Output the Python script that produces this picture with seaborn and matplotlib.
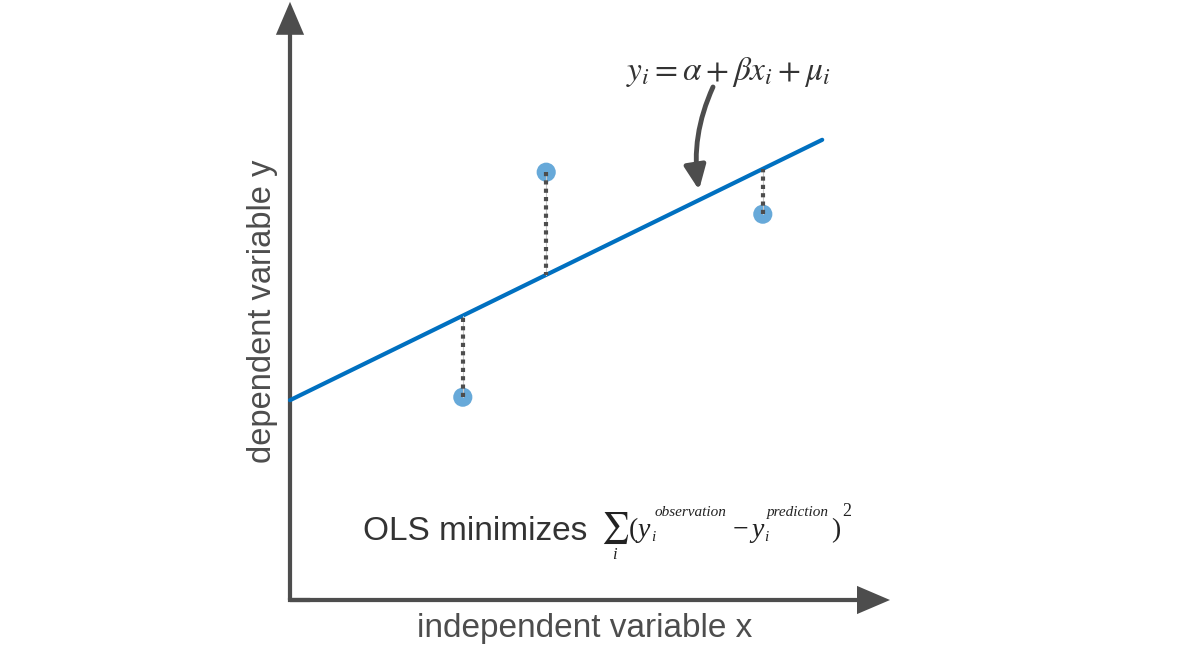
import numpy as np
import pandas as pd
import matplotlib
matplotlib.use("Agg")
import matplotlib.pyplot as plt
import seaborn as sns

# ---- data (abstract units, origin at the axis corner) ----
obs_x = [2.88, 4.27, 7.88]
obs_y = [3.38, 7.13, 6.43]
fit_y = [4.73, 5.42, 7.18]          # value of the fitted line above/below each point
line_x = [0.0, 8.87]
line_y = [3.33, 7.67]

x_label = "independent variable x"
y_label = "dependent variable y"
eq_text = r"$y_i = \alpha + \beta x_i + \mu_i$"
ols_text = "OLS minimizes"

axis_color = "#4d4d4d"
line_color = "#0070c0"
point_color = "#67a9d9"
text_color = "#333333"

sns.set_theme(style="white")
plt.rcParams["font.family"] = ["Liberation Sans", "DejaVu Sans"]
plt.rcParams["mathtext.fontset"] = "stix"


def px(x, y):
    # pixel position of the picture -> data units
    return (x - 290) / 60, (600 - y) / 60


fig = plt.figure(figsize=(11.97, 6.51), dpi=100)
ax = fig.add_axes([0, 0, 1, 1])
ax.set_xlim(-290 / 60, (1197 - 290) / 60)
ax.set_ylim(-51 / 60, 600 / 60)
ax.axis("off")

# axes with arrow heads
ax.arrow(0, 0, 0, 9.97, width=0.07, head_width=0.47, head_length=0.55,
         length_includes_head=True, color=axis_color, lw=0)
ax.arrow(0, 0, 10.0, 0, width=0.07, head_width=0.47, head_length=0.55,
         length_includes_head=True, color=axis_color, lw=0)
ax.plot([0, 0.3], [0, 0], color=axis_color, lw=3, solid_capstyle="projecting")

# regression line
df_line = pd.DataFrame({"x": line_x, "y": line_y})
sns.lineplot(data=df_line, x="x", y="y", ax=ax, color=line_color, lw=3)

# observations
df_obs = pd.DataFrame({"x": obs_x, "y": obs_y})
sns.scatterplot(data=df_obs, x="x", y="y", ax=ax, color=point_color,
                s=190, edgecolor="none", zorder=3)

# residuals
for x, y0, y1 in zip(obs_x, obs_y, fit_y):
    ax.plot([x, x], [y0, y1], color="#c8c8c8", lw=0.8, zorder=4)
    ax.plot([x, x], [y0, y1], color=axis_color, lw=3,
            linestyle=(0, (1, 1)), dash_capstyle="butt", zorder=5)

# labels
ax.text(*px(585, 628), x_label, ha="center", va="center", fontsize=24, color=axis_color)
ax.text(*px(262, 311), y_label, ha="center", va="center", rotation=90,
        fontsize=23.5, color=axis_color)
ax.text(*px(728, 72), eq_text, ha="center", va="center", fontsize=24, color=text_color)
ax.text(*px(363, 540), ols_text, ha="left", va="baseline", fontsize=24, color=text_color)

# sum of squared residuals, set piece by piece (small superscripts)
serif = ["Liberation Serif", "DejaVu Serif"]
ax.text(*px(615, 528), r"$\sum$", ha="center", va="center", fontsize=22, color="#222222")
pieces = [
    # text, x px, baseline px, size, style
    ("i", 612, 559, 12, "italic"),
    ("(", 629, 537, 20, "normal"),
    ("y", 637, 537, 20, "italic"),
    ("i", 651, 541, 11, "italic"),
    ("observation", 655, 516, 11, "italic"),
    ("\u2212", 733, 537, 20, "normal"),
    ("y", 751, 537, 20, "italic"),
    ("i", 764, 541, 11, "italic"),
    ("prediction", 767, 516, 11, "italic"),
    (")", 831, 537, 20, "normal"),
    ("2", 842, 516, 13, "normal"),
]
for s, x, y, size, style in pieces:
    ax.text(*px(x, y), s, ha="left", va="baseline", fontsize=size,
            fontstyle=style, family=serif, color="#222222")

# curved pointer to the line
ax.annotate("", xy=px(699, 190), xytext=px(713, 87),
            arrowprops=dict(arrowstyle="-|>,head_length=1.45,head_width=0.65",
                            mutation_scale=10,
                            connectionstyle="arc3,rad=0.15", color=axis_color,
                            lw=3.5, shrinkA=0, shrinkB=0))

fig.savefig("out.png", dpi=100)
